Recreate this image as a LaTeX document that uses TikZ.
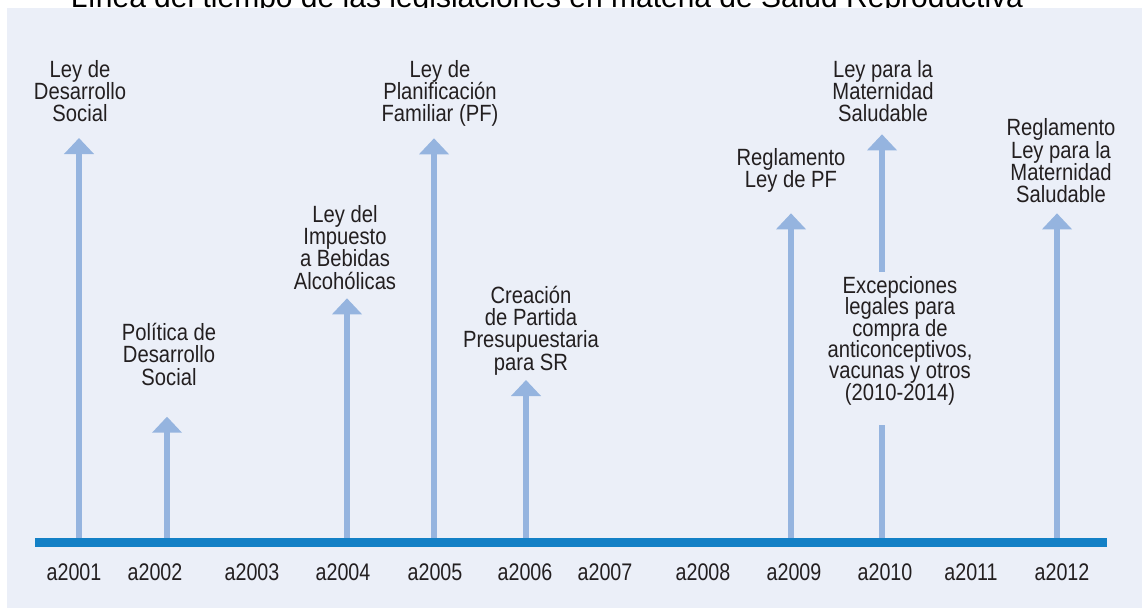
\documentclass[tikz,border=0pt]{standalone}
\usepackage{fontspec}
\usetikzlibrary{arrows.meta}
\newfontfamily\narrowfont[FakeStretch=0.86]{Liberation Sans}
\newfontfamily\yearfontfam[FakeStretch=0.82]{Liberation Sans}
\newfontfamily\titlefontfam{Liberation Sans}
\newcommand\evfont{\narrowfont\fontsize{23.5}{22.3}\selectfont\lineskiplimit=-100pt\relax}
\newcommand\evfonttight{\narrowfont\fontsize{23.5}{21.3}\selectfont\lineskiplimit=-100pt\relax}
\definecolor{panelbg}{HTML}{EBEFF8}
\definecolor{arrowblue}{HTML}{95B4DF}
\definecolor{barblue}{HTML}{1380C6}
\definecolor{textdark}{HTML}{231F20}
\tikzset{
  evlabel/.style={anchor=base, align=center, inner sep=0pt, text=textdark,
    font=\evfont},
  evlabeltight/.style={evlabel, font=\evfonttight},
  yearlabel/.style={anchor=base, inner sep=0pt, text=textdark,
    font=\yearfontfam\fontsize{24}{24}\selectfont},
  evarrow/.style={draw=arrowblue, line width=6pt,
    -{Triangle[width=29pt,length=16pt]}},
  evline/.style={draw=arrowblue, line width=6pt},
}
\begin{document}
\begin{tikzpicture}[x=1pt,y=-1pt]
\useasboundingbox (0,0) rectangle (1142,608);
% title (cut off at top)
\node[anchor=base, inner sep=0pt, font=\titlefontfam\fontsize{30}{30}\selectfont, text=black] (title) at (547,7.5)
  {Línea del tiempo de las legislaciones en materia de Salud Reproductiva};
% panel
\fill[panelbg] (7,8) rectangle (1142,608);

% labels (anchor = baseline of last line)
\node[evlabel] (l1) at (80,121.7) {Ley de\\Desarrollo\\Social};
\node[evlabel] (l2) at (169,385) {Política de\\Desarrollo\\Social};
\node[evlabel] (l3) at (345,289) {Ley del\\Impuesto\\a Bebidas\\Alcohólicas};
\node[evlabel] (l4) at (440,121.7) {Ley de\\Planificación\\Familiar (PF)};
\node[evlabel] (l5) at (531,370) {Creación\\de Partida\\Presupuestaria\\para SR};
\node[evlabel] (l6) at (791,187.3) {Reglamento\\Ley de PF};
\node[evlabel] (l7) at (883,121.7) {Ley para la\\Maternidad\\Saludable};
\node[evlabeltight] (l8) at (900,400) {Excepciones\\legales para\\compra de\\anticonceptivos,\\vacunas y otros\\(2010-2014)};
\node[evlabel] (l9) at (1061,202.7) {Reglamento\\Ley para la\\Maternidad\\Saludable};

% arrow anchor points
\coordinate (b1) at (79,540);   \coordinate (t1) at (79,138);
\coordinate (b2) at (167,540);  \coordinate (t2) at (167,416.7);
\coordinate (b3) at (347,540);  \coordinate (t3) at (347,298.3);
\coordinate (b4) at (434,540);  \coordinate (t4) at (434,138.3);
\coordinate (b5) at (526,540);  \coordinate (t5) at (526,380);
\coordinate (b6) at (791,540);  \coordinate (t6) at (791,213.3);
\coordinate (b7) at (882,540);  \coordinate (m7a) at (882,425);
\coordinate (m7b) at (882,271.7); \coordinate (t7) at (882,134.3);
\coordinate (b9) at (1057,540); \coordinate (t9) at (1057,213.3);

\draw[evarrow] (b1) -- (t1);
\draw[evarrow] (b2) -- (t2);
\draw[evarrow] (b3) -- (t3);
\draw[evarrow] (b4) -- (t4);
\draw[evarrow] (b5) -- (t5);
\draw[evarrow] (b6) -- (t6);
\draw[evline] (b7) -- (m7a);
\draw[evarrow] (m7b) -- (t7);
\draw[evarrow] (b9) -- (t9);

% timeline bar
\fill[barblue] (35,538) rectangle (1107,547);
\node[inner sep=0pt] (bar) at (571,542.5) {};

% years
\node[yearlabel] (y2001) at (74,580) {a2001};
\node[yearlabel] (y2002) at (155,580) {a2002};
\node[yearlabel] (y2003) at (252,580) {a2003};
\node[yearlabel] (y2004) at (343,580) {a2004};
\node[yearlabel] (y2005) at (435,580) {a2005};
\node[yearlabel] (y2006) at (525,580) {a2006};
\node[yearlabel] (y2007) at (605,580) {a2007};
\node[yearlabel] (y2008) at (703,580) {a2008};
\node[yearlabel] (y2009) at (794,580) {a2009};
\node[yearlabel] (y2010) at (885,580) {a2010};
\node[yearlabel] (y2011) at (971,580) {a2011};
\node[yearlabel] (y2012) at (1062,580) {a2012};
\end{tikzpicture}
\end{document}
